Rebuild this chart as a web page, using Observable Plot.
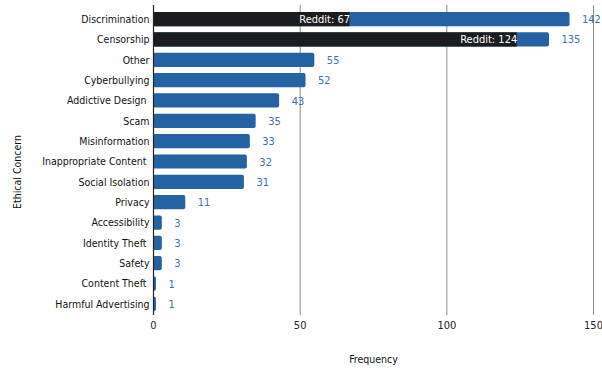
<!DOCTYPE html>
<html>
<head>
<meta charset="utf-8">
<script src="https://cdn.jsdelivr.net/npm/d3@7"></script>
<script src="https://cdn.jsdelivr.net/npm/@observablehq/plot@0.6"></script>
<style>
  html, body { margin: 0; padding: 0; background: #fff; }
</style>
</head>
<body>
<div id="chart"></div>
<script>
const categories = ["Discrimination", "Censorship", "Other", "Cyberbullying", "Addictive Design", "Scam", "Misinformation", "Inappropriate Content", "Social Isolation", "Privacy", "Accessibility", "Identity Theft", "Safety", "Content Theft", "Harmful Advertising"];
const totals = [142, 135, 55, 52, 43, 35, 33, 32, 31, 11, 3, 3, 3, 1, 1];
const redditCategories = ["Discrimination", "Censorship"];
const redditValues = [67, 124];
const xTicks = [0, 50, 100, 150];
const trailingSpace = new Set(["Addictive Design", "Inappropriate Content", "Identity Theft", "Content Theft"]);

const data = categories.map((c, i) => ({cat: c, value: totals[i]}));
const reddit = redditCategories.map((c, i) => ({cat: c, value: redditValues[i]}));

const FONT = "'DejaVu Sans Condensed', 'DejaVu Sans', sans-serif";
const BLUE = "#2462a2";
const LABEL_BLUE = "#3a70b3";

const chart = Plot.plot({
  width: 602,
  height: 368,
  marginLeft: 153,
  marginRight: 9,
  marginTop: 12,
  marginBottom: 57,
  style: {fontFamily: FONT, fontSize: "11px", color: "#222", background: "#fff"},
  x: {domain: [0, 150], ticks: xTicks, label: null},
  y: {domain: categories, label: null, paddingInner: 0.3, paddingOuter: 0, round: false},
  marks: [
    Plot.ruleX(xTicks.slice(1), {stroke: "#8c8c8c", strokeWidth: 1, insetTop: -7, insetBottom: -4}),
    Plot.axisX({ticks: xTicks, tickSize: 0, tickPadding: 10, fontSize: 11, fill: "#222", label: null}),
    Plot.axisY({tickSize: 0, tickPadding: 4, fontSize: 10.5, fill: "#111", label: null,
      tickFormat: d => trailingSpace.has(d) ? d + "\u00a0" : d}),
    Plot.barX(data, {x: "value", y: "cat", fill: BLUE, rx: 2}),
    Plot.barX(reddit, {x: "value", y: "cat", fill: "#1c1c1e", rx: 0}),
    Plot.text(reddit, {x: "value", y: "cat", text: d => `Reddit: ${d.value}`, textAnchor: "end",
      fill: "#fff", fontSize: 11, dx: 0}),
    Plot.text(data, {x: "value", y: "cat", text: d => String(d.value), textAnchor: "start",
      dx: 12, fill: LABEL_BLUE, fontSize: 11}),
    Plot.ruleX([0], {stroke: "#222", strokeWidth: 1.2, insetTop: -7, insetBottom: -4}),
    Plot.text(["Frequency"], {frameAnchor: "bottom", dy: 51, fontSize: 10.5, fill: "#111"}),
    Plot.text(["Ethical Concern"], {frameAnchor: "left", textAnchor: "middle", dx: -136, dy: 10, rotate: -90,
      fontSize: 10.5, fill: "#111"})
  ]
});
document.getElementById("chart").appendChild(chart);
</script>
</body>
</html>
